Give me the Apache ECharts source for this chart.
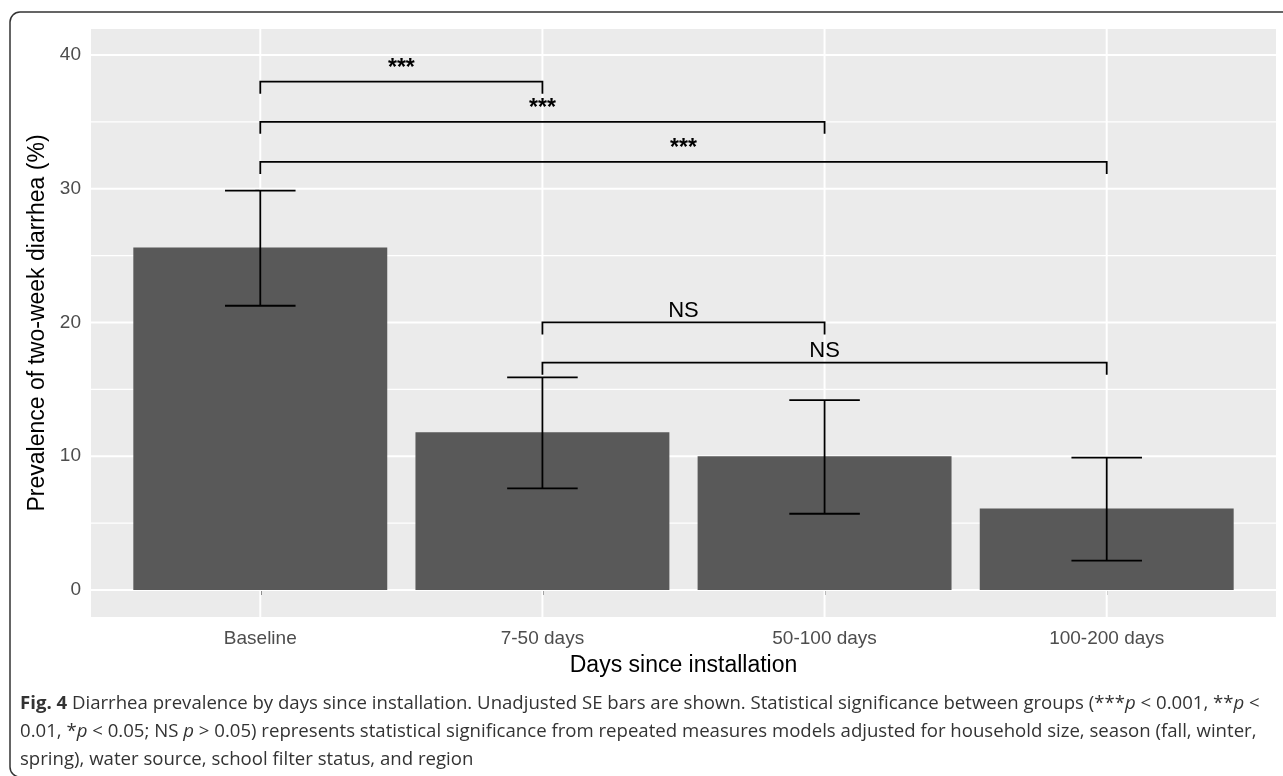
<!DOCTYPE html>
<html><head><meta charset="utf-8">
<script src="https://cdn.jsdelivr.net/npm/echarts@6/dist/echarts.min.js"></script>
<style>html,body{margin:0;padding:0;background:#fff}#c{width:1283px;height:776px}</style>
</head><body><div id="c"></div>
<script>
// ---- data ----
const categories = ['Baseline', '7-50 days', '50-100 days', '100-200 days'];
const prevalence = [25.6, 11.8, 10.0, 6.1];
const seLower = [21.25, 7.6, 5.7, 2.2];
const seUpper = [29.85, 15.9, 14.2, 9.9];
const yTicks = [0, 10, 20, 30, 40];
const yMinorTicks = [5, 15, 25, 35];
const bracketFrom = [0, 0, 0, 1, 1];
const bracketTo = [1, 2, 3, 2, 3];
const bracketY = [38, 35, 32, 20, 17];
const bracketLabels = ['***', '***', '***', 'NS', 'NS'];

// ---- layout constants ----
const X_MIN = -0.6, X_MAX = 3.6, Y_MIN = -2.02, Y_MAX = 41.94;
const BAR_HALF = 0.45, CAP_HALF = 0.125, TIP = 0.9;
const FONT = 'Liberation Sans, Arial, sans-serif';
const CAP_FONT = 'Open Sans';
const CAP_SIZE = 18.6;
const catIdx = categories.map((c, i) => i);

const chart = echarts.init(document.getElementById('c'), null, {renderer: 'canvas'});

const option = {
  animation: false,
  backgroundColor: '#ffffff',
  grid: {left: 91, top: 29, width: 1185, height: 588, show: true, backgroundColor: '#EBEBEB', borderWidth: 0},
  xAxis: {
    type: 'value', min: X_MIN, max: X_MAX,
    axisLine: {show: false}, splitLine: {show: false},
    axisTick: {show: true, customValues: catIdx, length: 5, lineStyle: {color: '#333', width: 1.5}},
    axisLabel: {customValues: catIdx, formatter: v => categories[Math.round(v)] || '',
      color: '#4D4D4D', fontSize: 19, fontFamily: FONT, margin: 12},
    name: 'Days since installation', nameLocation: 'middle', nameGap: 37,
    nameTextStyle: {fontSize: 23, color: '#000', fontFamily: FONT}
  },
  yAxis: {
    type: 'value', min: Y_MIN, max: Y_MAX,
    axisLine: {show: false}, splitLine: {show: false},
    axisTick: {show: true, customValues: yTicks, length: 5, lineStyle: {color: '#333', width: 1.5}},
    axisLabel: {customValues: yTicks, color: '#4D4D4D', fontSize: 19, fontFamily: FONT, margin: 10},
    name: 'Prevalence of two-week diarrhea (%)', nameLocation: 'middle', nameGap: 37,
    nameTextStyle: {fontSize: 23, color: '#000', fontFamily: FONT}
  },
  graphic: [
    {type: 'rect', shape: {x: 10, y: 12, width: 1300, height: 765, r: 10},
     style: {fill: 'none', stroke: '#333', lineWidth: 1.5}, silent: true},
    {type: 'text', left: 20, top: 690, silent: true,
     style: {
       text: '{b|Fig. 4} Diarrhea prevalence by days since installation. Unadjusted SE bars are shown. Statistical significance between groups (***{i|p} < 0.001, **{i|p} <\n' +
             '0.01, *{i|p} < 0.05; NS {i|p} > 0.05) represents statistical significance from repeated measures models adjusted for household size, season (fall, winter,\n' +
             'spring), water source, school filter status, and region',
       fontSize: CAP_SIZE, fontFamily: CAP_FONT, fill: '#333', lineHeight: 28,
       rich: {
         b: {fontWeight: 'bold', fontSize: CAP_SIZE, fontFamily: CAP_FONT, fill: '#333', lineHeight: 28},
         i: {fontStyle: 'italic', fontSize: CAP_SIZE, fontFamily: CAP_FONT, fill: '#333', lineHeight: 28}
       }
     }}
  ],
  series: [
    { // panel grid lines
      type: 'custom', z: 1, silent: true,
      data: [[0]],
      encode: {x: 0},
      renderItem: (params, api) => {
        const children = [];
        yMinorTicks.forEach(v => {
          const a = api.coord([X_MIN, v]), b = api.coord([X_MAX, v]);
          children.push({type: 'line', shape: {x1: a[0], y1: a[1], x2: b[0], y2: b[1]}, style: {stroke: '#fff', lineWidth: 1.2}});
        });
        yTicks.forEach(v => {
          const a = api.coord([X_MIN, v]), b = api.coord([X_MAX, v]);
          children.push({type: 'line', shape: {x1: a[0], y1: a[1], x2: b[0], y2: b[1]}, style: {stroke: '#fff', lineWidth: 2}});
        });
        catIdx.forEach(i => {
          const a = api.coord([i, Y_MIN]), b = api.coord([i, Y_MAX]);
          children.push({type: 'line', shape: {x1: a[0], y1: a[1], x2: b[0], y2: b[1]}, style: {stroke: '#fff', lineWidth: 2}});
        });
        return {type: 'group', children};
      }
    },
    { // bars
      type: 'custom', z: 2, silent: true,
      data: prevalence.map((v, i) => [i, v]),
      encode: {x: 0, y: 1},
      renderItem: (params, api) => {
        const i = api.value(0), v = api.value(1);
        const p0 = api.coord([i - BAR_HALF, v]), p1 = api.coord([i + BAR_HALF, 0]);
        return {type: 'rect', shape: {x: p0[0], y: p0[1], width: p1[0] - p0[0], height: p1[1] - p0[1]},
                style: {fill: '#595959'}};
      }
    },
    { // SE error bars
      type: 'custom', z: 3, silent: true,
      data: seLower.map((lo, i) => [i, lo, seUpper[i]]),
      encode: {x: 0, y: [1, 2]},
      renderItem: (params, api) => {
        const i = api.value(0), lo = api.value(1), hi = api.value(2);
        const t = api.coord([i, hi]), b = api.coord([i, lo]);
        const tl = api.coord([i - CAP_HALF, hi]), tr = api.coord([i + CAP_HALF, hi]);
        const bl = api.coord([i - CAP_HALF, lo]), br = api.coord([i + CAP_HALF, lo]);
        const st = {stroke: '#000', lineWidth: 1.8};
        return {type: 'group', children: [
          {type: 'line', shape: {x1: t[0], y1: t[1], x2: b[0], y2: b[1]}, style: st},
          {type: 'line', shape: {x1: tl[0], y1: tl[1], x2: tr[0], y2: tr[1]}, style: st},
          {type: 'line', shape: {x1: bl[0], y1: bl[1], x2: br[0], y2: br[1]}, style: st}
        ]};
      }
    },
    { // significance brackets
      type: 'custom', z: 4, silent: true,
      data: bracketFrom.map((f, k) => [f, bracketTo[k], bracketY[k]]),
      encode: {x: [0, 1], y: 2},
      renderItem: (params, api) => {
        const f = api.value(0), t = api.value(1), y = api.value(2);
        const a = api.coord([f, y - TIP]), b = api.coord([f, y]), c = api.coord([t, y]), d = api.coord([t, y - TIP]);
        const m = api.coord([(f + t) / 2, y]);
        const lab = bracketLabels[params.dataIndex];
        const isStar = lab.indexOf('*') >= 0;
        return {type: 'group', children: [
          {type: 'polyline', shape: {points: [a, b, c, d]}, style: {stroke: '#000', lineWidth: 1.8, fill: 'none'}},
          {type: 'text', style: {text: lab, x: m[0], y: m[1] - (isStar ? 2 : 1),
            align: 'center', verticalAlign: 'bottom', fontSize: isStar ? 23 : 22,
            fontWeight: isStar ? 'bold' : 'normal', fontFamily: FONT, fill: '#000'}}
        ]};
      }
    }
  ]
};
chart.setOption(option);
</script>
</body></html>
